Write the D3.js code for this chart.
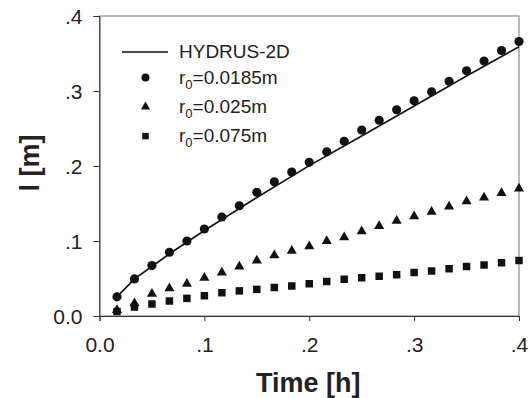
<!DOCTYPE html>
<html>

<head>
  <meta charset="utf8">
  <script src="https://d3js.org/d3.v7.min.js"></script>
  <style>
    body { margin: 0; background: #fff; }
    text { font-family: Arial, "Liberation Sans", sans-serif; fill: #222; }
    .axis-title { font-size: 27px; font-weight: bold; }
    .legend text { font-size: 19px; }
  </style>
</head>

<body>
  <svg id="chart" width="529" height="398"></svg>

  <script>
    var times = d3.range(1, 25).map((i) => i / 60);
    var r0185 = [0.0255, 0.0494, 0.0672, 0.085, 0.100, 0.116, 0.132, 0.147, 0.165, 0.179, 0.192, 0.205,
      0.219, 0.233, 0.248, 0.261, 0.275, 0.287, 0.299, 0.313, 0.327, 0.340, 0.354, 0.366];
    var r025 = [0.008, 0.017, 0.0295, 0.037, 0.043, 0.051, 0.058, 0.066, 0.074, 0.081, 0.087, 0.093,
      0.100, 0.105, 0.113, 0.120, 0.127, 0.133, 0.139, 0.146, 0.153, 0.158, 0.164, 0.170];
    var r075 = [0.006, 0.012, 0.016, 0.020, 0.0235, 0.027, 0.031, 0.0335, 0.0355, 0.038, 0.040, 0.043,
      0.046, 0.049, 0.051, 0.053, 0.055, 0.058, 0.060, 0.063, 0.066, 0.068, 0.071, 0.074];
    var hydrusT = [0.0167, 0.0333, 0.05, 0.0667, 0.1, 0.15, 0.2, 0.25, 0.3, 0.35, 0.4];
    var hydrusL = [0.0255, 0.0494, 0.066, 0.083, 0.114, 0.158, 0.2005, 0.240, 0.280, 0.320, 0.359];
    var ticks = [0, 0.1, 0.2, 0.3, 0.4];
    var tickLabels = ['0.0', '.1', '.2', '.3', '.4'];

    var chart = d3.select('#chart');
    var margin = { top: 16, right: 10, bottom: 82, left: 99.5 };
    var width = chart.attr('width') - margin.left - margin.right;
    var height = chart.attr('height') - margin.top - margin.bottom;

    var x = d3.scaleLinear().domain([0, 0.4]).range([0, width]);
    var y = d3.scaleLinear().domain([0, 0.4]).range([height, 0]);

    var group = chart.append('g')
      .attr('transform', 'translate(' + margin.left + ', ' + margin.top + ')');

    // frame
    group.append('rect')
      .attr('width', width)
      .attr('height', height)
      .attr('fill', 'none')
      .attr('stroke', '#777')
      .attr('stroke-width', 1);

    var fmt = (d) => tickLabels[ticks.indexOf(d)];

    var xAxis = group.append('g')
      .attr('transform', 'translate(0, ' + height + ')')
      .call(d3.axisBottom(x).tickValues(ticks).tickFormat(fmt).tickSize(5).tickPadding(16));

    var yAxis = group.append('g')
      .call(d3.axisLeft(y).tickValues(ticks).tickFormat(fmt).tickSize(6).tickPadding(11));

    [xAxis, yAxis].forEach((a) => {
      a.attr('font-size', 21).attr('font-family', 'Arial, "Liberation Sans", sans-serif');
      a.select('.domain').attr('stroke', '#333');
      a.selectAll('.tick line').attr('stroke', '#333');
      a.selectAll('.tick text').attr('fill', '#222');
    });
    yAxis.selectAll('.tick text').attr('dy', '0.36em');

    group.append('text')
      .attr('class', 'axis-title')
      .attr('x', width / 2 - 1)
      .attr('y', height + 76)
      .attr('text-anchor', 'middle')
      .text('Time [h]');

    group.append('text')
      .attr('class', 'axis-title')
      .attr('transform', 'rotate(-90)')
      .attr('x', -height / 2 + 3)
      .attr('y', -61)
      .attr('text-anchor', 'middle')
      .text('l [m]');

    // HYDRUS-2D line
    var line = d3.line()
      .x((d) => x(d[0]))
      .y((d) => y(d[1]));

    group.append('path')
      .datum(hydrusT.map((t, i) => [t, hydrusL[i]]))
      .attr('fill', 'none')
      .attr('stroke', '#111')
      .attr('stroke-width', 1.6)
      .attr('d', line);

    var series = [
      { values: r0185, symbol: d3.symbolCircle, size: 66 },
      { values: r025, symbol: d3.symbolTriangle, size: 44 },
      { values: r075, symbol: d3.symbolSquare, size: 56 }
    ];

    series.forEach((s) => {
      var sym = d3.symbol().type(s.symbol).size(s.size);
      group.selectAll(null)
        .data(times.map((t, i) => [t, s.values[i]]))
        .enter()
        .append('path')
        .attr('d', sym)
        .attr('fill', '#111')
        .attr('transform', (d) => 'translate(' + x(d[0]) + ',' + y(d[1]) + ')');
    });

    // legend
    var legend = chart.append('g').attr('class', 'legend').attr('transform', 'translate(122, 52)');
    legend.append('line')
      .attr('x1', 0).attr('x2', 46)
      .attr('stroke', '#111').attr('stroke-width', 1.6);
    legend.append('text').attr('x', 57).attr('y', 6).text('HYDRUS-2D');

    var legendItems = [
      { symbol: d3.symbolCircle, size: 50, label: '0.0185m' },
      { symbol: d3.symbolTriangle, size: 36, label: '0.025m' },
      { symbol: d3.symbolSquare, size: 42, label: '0.075m' }
    ];
    legendItems.forEach((it, i) => {
      var yy = 25.5 + 29.3 * i;
      legend.append('path')
        .attr('d', d3.symbol().type(it.symbol).size(it.size))
        .attr('fill', '#111')
        .attr('transform', 'translate(23.5,' + yy + ')');
      var t = legend.append('text').attr('x', 57).attr('y', yy + 6);
      t.append('tspan').text('r');
      t.append('tspan').attr('font-size', '13px').attr('dy', 5).text('0');
      t.append('tspan').attr('dy', -5).text('=' + it.label);
    });
  </script>
</body>

</html>
